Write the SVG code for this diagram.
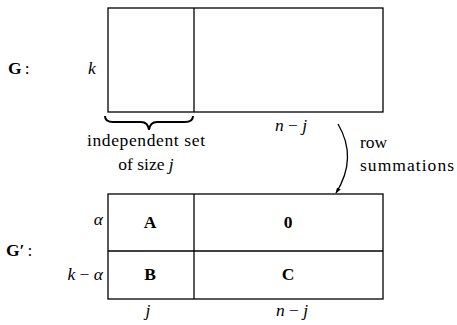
<svg xmlns="http://www.w3.org/2000/svg" width="457" height="325" viewBox="0 0 457 325" font-family="Liberation Serif, DejaVu Serif, serif" font-size="17.5">
<style>
.ln{fill:none;stroke:#000;stroke-width:1.3}
.m{font-style:italic}
.b{font-weight:bold}
.n{font-style:normal;font-weight:normal}
</style>
<defs>
<marker id="ah" viewBox="0 0 10 10" refX="9" refY="5" markerWidth="6" markerHeight="6" orient="auto" markerUnits="userSpaceOnUse">
<path d="M0,1.5 L10,5 L0,8.5 Z" fill="#000"/>
</marker>
</defs>
<g id="G">
<rect class="ln" x="108" y="8" width="275" height="104"/>
<line class="ln" x1="194" y1="8" x2="194" y2="112"/>
<text class="b" x="8" y="74">G<tspan class="n" dx="3">:</tspan></text>
<text class="m" x="88" y="74">k</text>
<path id="brace" d="M105,116 Q105,122 113,122 L141,122 Q148,122 149,130 Q150,122 157,122 L185,122 Q193,122 193,116" fill="none" stroke="#000" stroke-width="2"/>
<text x="146" y="146" text-anchor="middle" textLength="118">independent set</text>
<text x="146" y="170" text-anchor="middle">of size <tspan class="m">j</tspan></text>
<text class="m" x="291" y="131" text-anchor="middle">n <tspan class="n">−</tspan> j</text>
</g>
<g id="connectors">
<path class="ln" d="M338,124 Q358,158 336,193" stroke-width="1.1" marker-end="url(#ah)"/>
<text x="360" y="148">row</text>
<text x="360" y="171" textLength="94">summations</text>
</g>
<g id="Gprime">
<rect class="ln" x="108" y="194" width="275" height="105"/>
<line class="ln" x1="194" y1="194" x2="194" y2="299"/>
<line class="ln" x1="108" y1="251" x2="383" y2="251"/>
<text class="b" x="6" y="256">G′<tspan class="n" dx="3">:</tspan></text>
<text class="m" x="103" y="225" text-anchor="end">α</text>
<text class="m" x="103" y="280" text-anchor="end">k <tspan class="n">−</tspan> α</text>
<text class="b" x="150" y="228" text-anchor="middle">A</text>
<text class="b" x="288" y="228" text-anchor="middle">0</text>
<text class="b" x="150" y="280" text-anchor="middle">B</text>
<text class="b" x="288" y="280" text-anchor="middle">C</text>
<text class="m" x="148" y="316" text-anchor="middle">j</text>
<text class="m" x="292" y="316" text-anchor="middle">n <tspan class="n">−</tspan> j</text>
</g>
</svg>
